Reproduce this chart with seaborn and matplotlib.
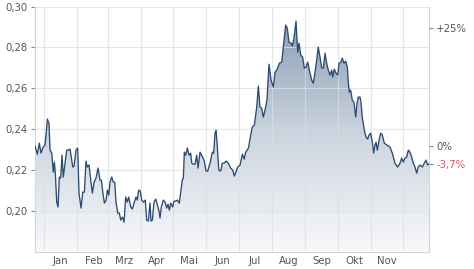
import numpy as np
import pandas as pd
import matplotlib
matplotlib.use("Agg")
import matplotlib.pyplot as plt
import matplotlib.dates as mdates
from matplotlib.colors import LinearSegmentedColormap
import seaborn as sns

# days relative to 1 Jan
days = [-8.4, -6.2, -4.4, -2.8, -0.9, 0.9, 2.5, 3.1, 4.6, 5.6, 7.2, 8.6, 9.6, 10.5, 11.8, 13.0, 14.2, 15.5,
        16.7, 17.9, 19.5, 21.1, 22.6, 24.2, 26.7, 27.9, 29.7, 31.3, 32.5, 34.4, 36.0, 37.5, 39.0, 40.2, 41.8,
        43.4, 44.9, 46.5, 48.3, 50.2, 52.0, 53.3, 54.6, 56.1, 57.7, 58.9, 60.2, 61.3, 62.9, 64.4, 65.7, 66.9,
        68.5, 70.0, 71.3, 72.8, 74.4, 75.9, 77.4, 78.7, 80.6, 82.1, 83.9, 85.5, 86.7, 88.0, 89.5, 90.8, 92.3,
        94.1, 95.4, 96.9, 98.5, 99.4, 100.7, 102.2, 103.8, 105.3, 106.9, 107.8, 109.0, 110.9, 112.5, 114.0,
        115.2, 116.5, 117.8, 119.6, 120.8, 122.4, 123.9, 125.7, 127.0, 128.5, 129.5, 130.4, 131.7, 133.2,
        134.8, 136.3, 137.3, 138.8, 140.3, 141.9, 143.1, 145.0, 146.8, 148.7, 150.6, 152.1, 154.3, 156.4,
        157.7, 158.9, 159.9, 161.1, 162.4, 164.2, 165.7, 167.3, 169.1, 171.3, 173.5, 175.4, 176.9, 179.1,
        180.0, 182.2, 184.4, 186.0, 187.5, 190.0, 192.1, 193.6, 195.5, 197.7, 199.2, 200.7, 202.3, 203.8,
        205.4, 207.2, 209.1, 211.0, 213.1, 214.7, 216.8, 218.7, 220.9, 222.4, 224.6, 226.1, 227.7, 229.6,
        230.8, 232.3, 234.2, 235.8, 237.0, 238.6, 240.4, 241.9, 243.5, 245.1, 246.6, 248.8, 250.3, 251.9,
        253.4, 254.9, 256.5, 258.1, 259.6, 261.2, 262.7, 264.2, 265.8, 267.4, 268.3, 269.8, 271.4, 273.0,
        274.2, 276.0, 277.2, 278.8, 280.4, 281.9, 282.8, 283.7, 285.0, 286.5, 288.1, 289.7, 290.9, 292.1,
        293.7, 294.6, 295.8, 297.7, 299.3, 300.8, 302.0, 303.6, 305.1, 306.4, 307.6, 308.6, 309.8, 311.4,
        312.9, 314.4, 316.3, 318.5, 321.6, 323.7, 326.2, 328.7, 330.9, 332.4, 333.9, 335.5, 337.1, 338.6,
        340.1, 341.7, 343.2, 344.8, 346.4, 347.8, 349.4, 351.6, 353.4, 355.0, 356.6, 358.1]

prices = [0.2317, 0.2277, 0.2331, 0.2282, 0.2312, 0.2322, 0.2410, 0.2449, 0.2429, 0.2297, 0.2282, 0.2189,
          0.2238, 0.2184, 0.2042, 0.2018, 0.2165, 0.2160, 0.2273, 0.2165, 0.2233, 0.2297, 0.2297, 0.2302,
          0.2214, 0.2219, 0.2297, 0.2307, 0.2086, 0.2013, 0.2091, 0.2091, 0.2243, 0.2214, 0.2224, 0.2150,
          0.2086, 0.2140, 0.2160, 0.2209, 0.2150, 0.2150, 0.2091, 0.2037, 0.2052, 0.2101, 0.2077, 0.2140,
          0.2165, 0.2140, 0.2140, 0.2042, 0.1988, 0.1988, 0.1954, 0.1969, 0.1944, 0.2067, 0.2042, 0.2067,
          0.2018, 0.2008, 0.2042, 0.2067, 0.2052, 0.2101, 0.2096, 0.2052, 0.2042, 0.2052, 0.1954, 0.1949,
          0.2037, 0.1949, 0.1954, 0.2042, 0.2057, 0.2028, 0.1998, 0.1964, 0.2018, 0.2052, 0.2042, 0.2013,
          0.2032, 0.2003, 0.2037, 0.2018, 0.2047, 0.2047, 0.2052, 0.2037, 0.2091, 0.2150, 0.2160, 0.2287,
          0.2272, 0.2307, 0.2272, 0.2282, 0.2233, 0.2228, 0.2228, 0.2272, 0.2209, 0.2287, 0.2268, 0.2248,
          0.2194, 0.2194, 0.2233, 0.2287, 0.2282, 0.2380, 0.2395, 0.2312, 0.2199, 0.2194, 0.2233, 0.2233,
          0.2243, 0.2233, 0.2209, 0.2199, 0.2170, 0.2199, 0.2214, 0.2224, 0.2277, 0.2253, 0.2287, 0.2307,
          0.2371, 0.2410, 0.2420, 0.2508, 0.2611, 0.2508, 0.2503, 0.2459, 0.2493, 0.2542, 0.2718, 0.2640,
          0.2606, 0.2679, 0.2694, 0.2723, 0.2728, 0.2802, 0.2910, 0.2895, 0.2826, 0.2821, 0.2807, 0.2846,
          0.2929, 0.2777, 0.2821, 0.2762, 0.2753, 0.2699, 0.2704, 0.2728, 0.2689, 0.2640, 0.2625, 0.2679,
          0.2738, 0.2802, 0.2753, 0.2699, 0.2699, 0.2772, 0.2723, 0.2689, 0.2665, 0.2689, 0.2655, 0.2694,
          0.2674, 0.2665, 0.2723, 0.2728, 0.2748, 0.2723, 0.2733, 0.2704, 0.2630, 0.2581, 0.2591, 0.2542,
          0.2532, 0.2459, 0.2527, 0.2557, 0.2557, 0.2532, 0.2459, 0.2395, 0.2361, 0.2351, 0.2371, 0.2380,
          0.2336, 0.2282, 0.2322, 0.2336, 0.2297, 0.2346, 0.2380, 0.2371, 0.2331, 0.2322, 0.2312, 0.2282,
          0.2233, 0.2214, 0.2233, 0.2258, 0.2238, 0.2258, 0.2263, 0.2297, 0.2287, 0.2263, 0.2233, 0.2214,
          0.2184, 0.2214, 0.2224, 0.2214, 0.2233, 0.2248, 0.2224, 0.2231]

y_ticks = [0.20, 0.22, 0.24, 0.26, 0.28, 0.30]
month_labels = ["Jan", "Feb", "Mrz", "Apr", "Mai", "Jun", "Jul", "Aug", "Sep", "Okt", "Nov"]
pct_ticks = [25, 0]
pct_labels = ["+25%", "0%"]
last_label = "-3,7%"

start = pd.Timestamp("2023-01-01")
df = pd.DataFrame({"date": start + pd.to_timedelta(days, unit="D"), "price": prices})

W, H = 474, 269
fig = plt.figure(figsize=(W / 100, H / 100), dpi=100)
ax = fig.add_axes([35 / W, 1 - 251.5 / H, (429.3 - 35) / W, (251.5 - 6.7) / H])

ymin, ymax = 0.18, 0.30
xmin, xmax = df["date"].iloc[0], df["date"].iloc[-1]
ax.set_xlim(xmin, xmax)
ax.set_ylim(ymin, ymax)

# gradient fill under the line
cmap = LinearSegmentedColormap.from_list("g", ["#f8f9fb", "#c9d2dd", "#8497ae"])
grad = np.linspace(0, 1, 256).reshape(-1, 1)
xn0, xn1 = mdates.date2num(xmin), mdates.date2num(xmax)
im = ax.imshow(grad, aspect="auto", cmap=cmap, origin="lower",
               extent=[xn0, xn1, ymin, ymax], zorder=1)
poly = ax.fill_between(df["date"], prices, ymin, color="none", zorder=1)
clip = poly.get_paths()[0]
im.set_clip_path(clip, transform=ax.transData)

sns.lineplot(data=df, x="date", y="price", ax=ax, color="#2e4a6f", linewidth=0.95, zorder=3)

# grid (drawn over the fill, under the line)
grid_kw = dict(color="#dcdfe3", lw=0.8, alpha=0.75, zorder=2)
for y in y_ticks:
    ax.axhline(y, **grid_kw)
month_starts = [start + pd.DateOffset(months=m) for m in range(12)]
for ms in month_starts:
    ax.axvline(ms, **grid_kw)

ax.set_yticks(y_ticks)
ax.set_yticklabels([f"{v:.2f}".replace(".", ",") for v in y_ticks])
mid = [start + pd.DateOffset(months=m) + pd.Timedelta(days=15) for m in range(11)]
ax.set_xticks(mid)
ax.set_xticklabels(month_labels)
ax.tick_params(axis="x", length=0, pad=3, labelsize=7.3, colors="#555555")
ax.tick_params(axis="y", length=3, width=0.8, color="#888888", pad=2, labelsize=7.3, labelcolor="#555555")
ax.set_xlabel("")
ax.set_ylabel("")
for s in ["left", "bottom", "right"]:
    ax.spines[s].set_color("#d5d5d5")
    ax.spines[s].set_linewidth(0.8)
ax.spines["top"].set_visible(False)

# right-hand percentage axis
base = prices[0]
ax2 = ax.twinx()
ax2.set_ylim(ymin, ymax)
r_ticks = [base * (1 + p / 100) for p in pct_ticks] + [prices[-1]]
ax2.set_yticks(r_ticks)
ax2.set_yticklabels(pct_labels + [last_label])
ax2.tick_params(axis="y", length=3, width=0.8, color="#888888", pad=2, labelsize=7.3, labelcolor="#555555")
ax2.get_yticklabels()[-1].set_color("#e0506a")
for s in ["left", "bottom", "right", "top"]:
    ax2.spines[s].set_visible(False)

fig.savefig("out.png", dpi=100)
